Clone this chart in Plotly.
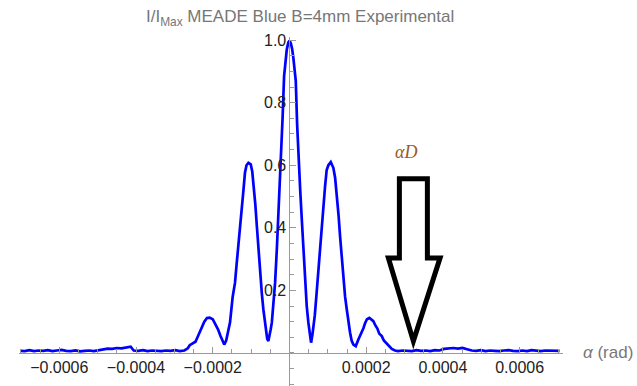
import plotly.graph_objects as go
import numpy as np

# alpha in units of 1e-4 rad, intensity normalised
alpha_e4 = [
    -7.02, -6.90, -6.78, -6.66, -6.54, -6.42, -6.30, -6.18, -6.06, -5.94, -5.82, -5.70,
    -5.58, -5.46, -5.34, -5.22, -5.10, -4.98, -4.86, -4.74, -4.62, -4.50, -4.38, -4.26,
    -4.14, -4.06, -3.94, -3.82, -3.70, -3.58, -3.46, -3.34, -3.22, -3.10, -2.98, -2.86,
    -2.74, -2.65, -2.60, -2.52, -2.45, -2.38, -2.30, -2.22, -2.15, -2.08, -2.00, -1.93,
    -1.86, -1.80, -1.74, -1.70, -1.65, -1.58, -1.55, -1.48, -1.42, -1.38, -1.33, -1.28,
    -1.24, -1.20, -1.16, -1.12, -1.07, -1.01, -0.97, -0.94, -0.89, -0.85, -0.81, -0.77,
    -0.72, -0.68, -0.64, -0.61, -0.58, -0.55, -0.52, -0.49, -0.46, -0.42, -0.375, -0.33,
    -0.29, -0.25, -0.22, -0.18, -0.14, -0.10, -0.07, -0.03, 0.0, 0.035, 0.07, 0.10,
    0.13, 0.164, 0.20, 0.24, 0.28, 0.32, 0.36, 0.407, 0.45, 0.493, 0.53, 0.563,
    0.60, 0.641, 0.66, 0.70, 0.753, 0.80, 0.842, 0.885, 0.928, 0.97, 1.014, 1.077,
    1.144, 1.19, 1.233, 1.28, 1.319, 1.36, 1.405, 1.45, 1.494, 1.54, 1.58, 1.62,
    1.666, 1.728, 1.76, 1.796, 1.84, 1.885, 1.93, 1.97, 2.02, 2.083, 2.14, 2.187,
    2.24, 2.291, 2.34, 2.406, 2.46, 2.536, 2.60, 2.667, 2.75, 2.83, 2.95, 3.07,
    3.19, 3.31, 3.43, 3.55, 3.67, 3.79, 3.91, 4.03, 4.15, 4.27, 4.39, 4.51,
    4.63, 4.75, 4.87, 4.99, 5.11, 5.23, 5.35, 5.47, 5.59, 5.71, 5.83, 5.95,
    6.07, 6.19, 6.31, 6.43, 6.55, 6.67, 6.79, 6.91, 7.04,
]
intensity = [
    0.007, 0.006, 0.009, 0.006, 0.008, 0.007, 0.009, 0.006, 0.008, 0.010, 0.007, 0.006,
    0.008, 0.005, 0.007, 0.008, 0.006, 0.009, 0.012, 0.014, 0.013, 0.016, 0.015, 0.018,
    0.020, 0.008, 0.007, 0.009, 0.006, 0.008, 0.007, 0.006, 0.008, 0.007, 0.009, 0.006,
    0.008, 0.015, 0.025, 0.030, 0.036, 0.055, 0.078, 0.100, 0.112, 0.113, 0.108, 0.092,
    0.075, 0.055, 0.035, 0.027, 0.040, 0.080, 0.097, 0.180, 0.224, 0.280, 0.341, 0.410,
    0.469, 0.520, 0.576, 0.600, 0.608, 0.603, 0.580, 0.544, 0.475, 0.405, 0.330, 0.256,
    0.190, 0.139, 0.095, 0.065, 0.045, 0.038, 0.052, 0.075, 0.097, 0.155, 0.224, 0.330,
    0.437, 0.530, 0.608, 0.750, 0.885, 0.935, 0.970, 0.992, 0.998, 0.990, 0.972, 0.945,
    0.915, 0.870, 0.730, 0.610, 0.520, 0.430, 0.330, 0.224, 0.150, 0.097, 0.050, 0.033,
    0.060, 0.097, 0.120, 0.180, 0.267, 0.340, 0.405, 0.480, 0.533, 0.585, 0.600, 0.610,
    0.592, 0.560, 0.512, 0.440, 0.373, 0.310, 0.245, 0.180, 0.139, 0.095, 0.065, 0.040,
    0.027, 0.022, 0.035, 0.043, 0.055, 0.065, 0.080, 0.095, 0.108, 0.112, 0.108, 0.102,
    0.088, 0.078, 0.062, 0.054, 0.040, 0.030, 0.020, 0.013, 0.008, 0.006, 0.008, 0.007,
    0.006, 0.009, 0.007, 0.008, 0.006, 0.009, 0.008, 0.013, 0.015, 0.016, 0.014, 0.016,
    0.012, 0.008, 0.007, 0.009, 0.006, 0.008, 0.007, 0.006, 0.008, 0.009, 0.007, 0.006,
    0.008, 0.006, 0.009, 0.007, 0.006, 0.008, 0.007, 0.006, 0.007,
]

xtick_vals = [-0.0006, -0.0004, -0.0002, 0.0002, 0.0004, 0.0006]
xtick_text = ["\u22120.0006", "\u22120.0004", "\u22120.0002", "0.0002", "0.0004", "0.0006"]
ytick_vals = [0.2, 0.4, 0.6, 0.8, 1.0]
ytick_text = ["0.2", "0.4", "0.6", "0.8", "1.0"]

title_text = "I/I<sub>Max</sub> MEADE Blue B=4mm Experimental"
xlabel_text = "<i>\u03b1</i> (rad)"
marker_text = "<i>\u03b1D</i>"

x = np.array(alpha_e4) * 1e-4
y = np.array(intensity)

XR = [-0.000705, 0.000713]
YR = [-0.1055, 1.01]

fig = go.Figure()
fig.add_trace(go.Scatter(x=x, y=y, mode="lines",
                         line=dict(color="#0000ff", width=2.7),
                         hoverinfo="skip", showlegend=False))

axcol = "#9a9a9a"
font_fam = "Liberation Sans, Arial, sans-serif"

# block arrow (outline) pointing down to the first envelope zero
ax_l, ax_r = 0.0002865, 0.0003595
hx_l, hx_r, tip_x = 0.0002578, 0.0003926, 0.000323
y_top, y_flare, y_tip = 0.557, 0.304, 0.038
pts = [(ax_l, y_top), (ax_r, y_top), (ax_r, y_flare), (hx_r, y_flare),
       (tip_x, y_tip), (hx_l, y_flare), (ax_l, y_flare)]
path = "M " + " L ".join(f"{px:.7f},{py:.4f}" for px, py in pts) + " Z"
fig.add_shape(type="path", path=path, xref="x", yref="y",
              line=dict(color="black", width=5), fillcolor="white")

fig.update_layout(
    width=637, height=386,
    margin=dict(l=19, r=74, t=37, b=0),
    paper_bgcolor="white", plot_bgcolor="white",
    xaxis=dict(range=XR, anchor="free", position=(0 - YR[0]) / (YR[1] - YR[0]),
               showline=True, linecolor=axcol, linewidth=1,
               ticks="inside", ticklen=6, tickcolor=axcol, tickwidth=1,
               tickmode="array", tickvals=xtick_vals, ticktext=xtick_text,
               tickfont=dict(family=font_fam, size=16, color="#222"),
               minor=dict(tickmode="linear", tick0=0, dtick=0.00005, ticks="inside",
                          ticklen=3.5, tickcolor=axcol, tickwidth=1),
               showgrid=False, zeroline=False),
    yaxis=dict(range=YR, anchor="free", position=(0 - XR[0]) / (XR[1] - XR[0]),
               showline=True, linecolor=axcol, linewidth=1,
               ticks="inside", ticklen=6, tickcolor=axcol, tickwidth=1,
               tickmode="array", tickvals=ytick_vals, ticktext=ytick_text,
               tickfont=dict(family=font_fam, size=16, color="#222"),
               minor=dict(tickmode="linear", tick0=0, dtick=0.05, ticks="inside",
                          ticklen=3.5, tickcolor=axcol, tickwidth=1),
               showgrid=False, zeroline=False),
    annotations=[
        dict(text=title_text, x=0.0000276, xref="x", y=1.054, yref="paper",
             xanchor="center", yanchor="middle", showarrow=False,
             font=dict(family=font_fam, size=17, color="#777")),
        dict(text=xlabel_text, x=1.034, xref="paper", y=0, yref="y",
             xanchor="left", yanchor="middle", showarrow=False,
             font=dict(family=font_fam, size=17, color="#777")),
        dict(text=marker_text, x=0.000304, xref="x", y=0.644, yref="y",
             xanchor="center", yanchor="middle", showarrow=False,
             font=dict(family="Liberation Serif, DejaVu Serif, serif", size=18,
                       color="#9a5a22")),
    ],
)

fig.write_html("out.html")
